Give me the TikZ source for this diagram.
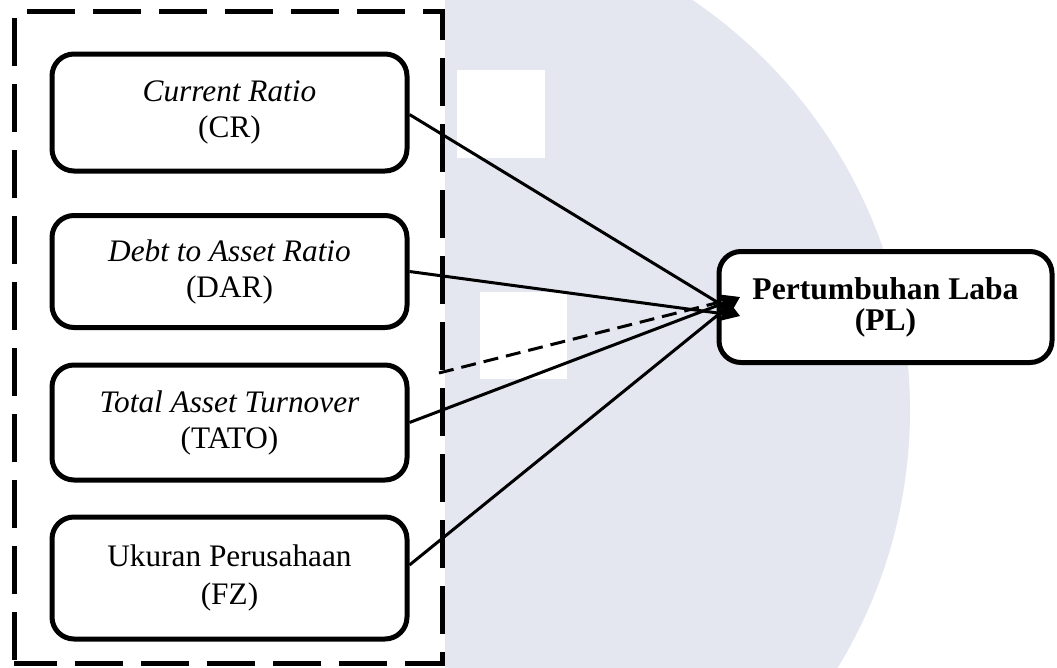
\documentclass[tikz,border=0pt]{standalone}
\usepackage{fontspec}
\setmainfont{Liberation Serif}
\usetikzlibrary{arrows.meta,calc}
\definecolor{wmcol}{RGB}{228,231,240}
\tikzset{
  varbox/.style={draw=black, line width=5pt, rounded corners=22pt, fill=white,
    minimum width=355pt, inner sep=0pt, align=center,
    font=\fontsize{31.3}{36}\selectfont},
  plbox/.style={draw=black, line width=5pt, rounded corners=22pt, fill=white,
    minimum width=333pt, minimum height=111pt, inner sep=0pt, align=center,
    font=\fontsize{31.6}{31}\selectfont\bfseries},
  groupline/.style={draw=black, line width=5pt, dash pattern=on 48pt off 18pt},
  arr/.style={line width=3pt, -{Stealth[length=21pt,width=16pt,inset=4pt]}},
  dasharr/.style={arr, dash pattern=on 15pt off 8pt}
}
\begin{document}
\begin{tikzpicture}[x=1pt,y=-1pt]
\useasboundingbox (0,0) rectangle (1057,667);
% watermark background
\begin{scope}
  \clip (445,0) rectangle (1057,667);
  \fill[wmcol] (415,410) circle[radius=495pt];
\end{scope}
\fill[white] (457,70) rectangle (545,158);
\fill[white] (480,292) rectangle (567,379);
% group (dashed frame)
\draw[groupline, dash phase=53pt] (14,11) -- (442,11) -- (442,663) -- (14,663);
\draw[groupline, dash phase=59pt] (14,11) -- (14,663);
% nodes
\node[varbox, minimum height=117pt] (CR) at (229.5,112.5) {\textit{Current Ratio}\\(CR)};
\node[varbox, minimum height=112pt] (DAR) at (229.5,271.5) {\textit{Debt to Asset Ratio}\\(DAR)};
\node[varbox, minimum height=115pt] (TATO) at (229.5,422.5) {\textit{Total Asset Turnover}\\(TATO)};
\node[varbox, minimum height=122pt, font=\fontsize{31.3}{38}\selectfont] (FZ) at (229.5,578) {Ukuran Perusahaan\\(FZ)};
\node[plbox] (PL) at (885.5,307) {Pertumbuhan Laba\\(PL)};
% targets
\coordinate (tu) at (740,297);
\coordinate (td) at (740,316);
\coordinate (ds) at (439,373);
% connectors
\draw[arr] ([yshift=-2pt]CR.east) -- (td);
\draw[arr] (DAR.east) -- (td);
\draw[dasharr] (ds) -- (tu);
\draw[arr] (TATO.east) -- (tu);
\draw[arr] ([yshift=13pt]FZ.east) -- (tu);
\end{tikzpicture}
\end{document}
